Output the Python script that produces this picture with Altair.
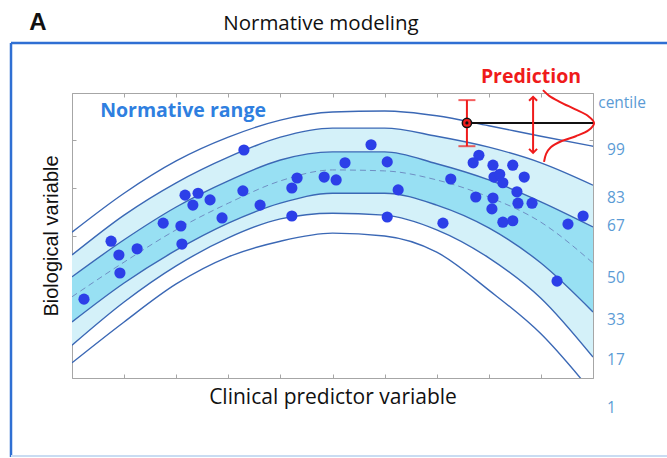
import altair as alt
import pandas as pd

# ---- predictor grid (percent of predictor range) and centile curves ----
GRID = [0, 10, 20, 30, 40, 50, 60, 70, 80, 90, 100]
CURVE_99 = [30.7, 38.9, 45.7, 50.7, 54.3, 56.0, 56.2, 55.2, 53.1, 50.9, 48.8]
CURVE_83 = [25.9, 34.3, 41.1, 46.5, 50.7, 52.6, 52.6, 50.9, 48.6, 45.3, 40.6]
CURVE_67 = [21.3, 29.1, 36.0, 41.5, 45.9, 47.6, 47.6, 45.1, 41.7, 37.1, 31.8]
CURVE_50 = [17.1, 24.4, 31.2, 36.8, 41.5, 43.8, 43.6, 41.7, 38.1, 32.8, 24.2]
CURVE_33 = [11.8, 20.0, 26.9, 32.6, 36.8, 38.9, 38.9, 36.4, 31.6, 24.2, 13.9]
CURVE_17 = [6.9, 16.0, 23.6, 29.5, 33.5, 34.7, 34.3, 31.2, 25.3, 16.8, 4.4]
CURVE_1 = [3.2, 11.8, 19.8, 25.5, 28.8, 30.5, 29.9, 26.5, 18.5, 9.3, -3.2]

# ---- observed subjects ----
SUBJ_X = [33.0, 21.7, 24.2, 23.2, 26.5, 32.8, 17.5, 20.9, 28.8, 36.1, 43.2, 42.2,
          42.2, 48.4, 50.7, 7.5, 9.0, 12.5, 21.1, 9.2, 2.3, 57.4, 52.4, 60.5,
          62.6, 72.7, 60.5, 71.2, 78.1, 77.0, 80.8, 84.6, 81.0, 82.1, 82.7, 86.8,
          77.5, 80.8, 85.4, 85.6, 88.3, 80.6, 82.7, 84.6, 95.2, 98.1, 93.1]
SUBJ_Y = [48.0, 38.5, 38.9, 36.4, 37.5, 39.4, 32.6, 32.0, 33.7, 36.4, 42.1, 40.0,
          34.1, 42.3, 41.7, 28.8, 25.9, 27.2, 28.2, 22.1, 16.6, 49.1, 45.3, 45.5,
          39.6, 41.9, 33.9, 32.6, 46.9, 45.3, 44.8, 44.8, 42.3, 42.9, 41.1, 42.3,
          38.1, 37.9, 39.2, 36.8, 36.8, 35.6, 32.8, 33.1, 32.4, 34.1, 20.4]

# ---- new individual and its prediction ----
PRED_X, PRED_Y = 75.8, 53.7
PRED_LO, PRED_HI = 48.8, 58.5
ARROW_X, ARROW_LO, ARROW_HI = 88.5, 47.4, 59.2
GAUSS_X = [90.4, 91.6, 93.7, 96.5, 99.0, 100.2, 99.2, 96.7, 94.0, 91.9, 91.0, 90.6]
GAUSS_Y = [60.6, 59.4, 58.1, 56.6, 55.2, 53.7, 52.2, 50.9, 49.9, 48.6, 47.2, 45.5]

# ---- annotations ----
RANGE_LABEL = ("Normative range", 5.4, 54.9)
PRED_LABEL = ("Prediction", 88.1, 62.1)
CENTILE_TEXT = ["centile", "99", "83", "67", "50", "33", "17", "1"]
CENTILE_X = [101.0, 102.7, 102.7, 102.7, 102.7, 102.7, 102.7, 102.7]
CENTILE_Y = [57.9, 48.0, 37.9, 32.0, 21.1, 12.2, 3.8, -6.3]

TICKS_X = [0, 10, 20, 30, 40, 50, 60, 70, 80, 90, 100]
TICKS_Y = [0, 10, 20, 30, 40, 50, 60]

FRAME = "#a6a6a6"
CURVE = "#3b68b5"
MEDIAN = "#6f8fc4"
LIGHT = "#d4f1f9"
DARK = "#98e0f3"
POINT = "#2c3fe8"
RED = "#ef1b1b"
CENTILE_BLUE = "#5b9bd5"
BORDER = "#2f6fd3"
SANS = "Open Sans"

XS = alt.Scale(domain=[0, 100], nice=False, zero=False)
YS = alt.Scale(domain=[0, 60], nice=False, zero=False)


def xq(field):
    return alt.X(field, type="quantitative", scale=XS, axis=None)


def yq(field):
    return alt.Y(field, type="quantitative", scale=YS, axis=None)


bands = pd.DataFrame({"x": GRID, "c99": CURVE_99, "c83": CURVE_83, "c67": CURVE_67,
                      "c50": CURVE_50, "c33": CURVE_33, "c17": CURVE_17, "c1": CURVE_1})
solid = bands.melt(id_vars="x", value_vars=["c99", "c83", "c67", "c33", "c17", "c1"],
                   var_name="centile", value_name="y")
subjects = pd.DataFrame({"x": SUBJ_X, "y": SUBJ_Y})
gauss = pd.DataFrame({"x": GAUSS_X, "y": GAUSS_Y, "i": list(range(len(GAUSS_X)))})
pred = pd.DataFrame({"x": [PRED_X], "y": [PRED_Y], "lo": [PRED_LO], "hi": [PRED_HI], "xe": [100]})
caps = pd.DataFrame({"x": [PRED_X, PRED_X], "y": [PRED_LO, PRED_HI]})
arrow = pd.DataFrame({"x": [ARROW_X], "lo": [ARROW_LO], "hi": [ARROW_HI]})
range_df = pd.DataFrame({"t": [RANGE_LABEL[0]], "x": [RANGE_LABEL[1]], "y": [RANGE_LABEL[2]]})
pred_df = pd.DataFrame({"t": [PRED_LABEL[0]], "x": [PRED_LABEL[1]], "y": [PRED_LABEL[2]]})
centiles = pd.DataFrame({"t": CENTILE_TEXT, "x": CENTILE_X, "y": CENTILE_Y})
one = pd.DataFrame({"k": [0]})

axis_common = dict(labels=False, domain=False, grid=False, tickSize=4, offset=-4,
                   tickColor=FRAME, tickWidth=1)

light = alt.Chart(bands).mark_area(color=LIGHT, interpolate="monotone").encode(
    x=alt.X("x:Q", scale=XS, axis=alt.Axis(
        orient="bottom", values=TICKS_X, title="Clinical predictor variable",
        titleFont=SANS, titleFontSize=21, titleFontWeight="normal", titleColor="#111111",
        titlePadding=8, **axis_common)),
    y=alt.Y("c83:Q", scale=YS, axis=alt.Axis(
        orient="left", values=TICKS_Y, title="Biological variable",
        titleFont="Liberation Sans", titleFontSize=20, titleFontWeight="normal",
        titleColor="#111111", titlePadding=10, **axis_common)),
    y2="c17:Q",
)
dark = alt.Chart(bands).mark_area(color=DARK, interpolate="monotone").encode(
    x=xq("x"), y=yq("c67"), y2="c33:Q")

lines = alt.Chart(solid).mark_line(color=CURVE, strokeWidth=1.4, interpolate="monotone",
                                   clip=True).encode(
    x=xq("x"), y=yq("y"), detail="centile:N")
median = alt.Chart(bands).mark_line(color=MEDIAN, strokeWidth=1, strokeDash=[6, 4],
                                    interpolate="monotone").encode(x=xq("x"), y=yq("c50"))

dots = alt.Chart(subjects).mark_circle(size=125, color=POINT, opacity=1).encode(
    x=alt.X("x:Q", scale=XS, axis=alt.Axis(orient="top", values=TICKS_X, title=None,
                                           **axis_common)),
    y=alt.Y("y:Q", scale=YS, axis=alt.Axis(orient="right", values=TICKS_Y, title=None,
                                           **axis_common)),
)

hline = alt.Chart(pred).mark_rule(color="#111111", strokeWidth=2).encode(
    x=xq("x"), x2="xe:Q", y=yq("y"))
ebar = alt.Chart(pred).mark_rule(color=RED, strokeWidth=2).encode(
    x=xq("x"), y=yq("lo"), y2="hi:Q")
ecaps = alt.Chart(caps).mark_tick(color=RED, orient="horizontal", size=17,
                                  thickness=2).encode(x=xq("x"), y=yq("y"))
marker = alt.Chart(pred).mark_point(shape="circle", filled=True, fill=RED, stroke="#111111",
                                    strokeWidth=1.5, size=85, opacity=1).encode(
    x=xq("x"), y=yq("y"))
marker_c = alt.Chart(pred).mark_circle(color="#111111", size=10, opacity=1).encode(
    x=xq("x"), y=yq("y"))

arrow_shaft = alt.Chart(arrow).mark_rule(color=RED, strokeWidth=2).encode(
    x=xq("x"), y=yq("lo"), y2="hi:Q")
arrow_up = alt.Chart(arrow).mark_point(shape="M-0.8,0.8L0,0L0.8,0.8", filled=False,
                                       color=RED, strokeWidth=2, size=100, opacity=1).encode(
    x=xq("x"), y=yq("hi"))
arrow_down = alt.Chart(arrow).mark_point(shape="M-0.8,-0.8L0,0L0.8,-0.8", filled=False,
                                         color=RED, strokeWidth=2, size=100, opacity=1).encode(
    x=xq("x"), y=yq("lo"))

gauss_line = alt.Chart(gauss).mark_line(color=RED, strokeWidth=2,
                                        interpolate="catmull-rom").encode(
    x=xq("x"), y=yq("y"), order="i:Q")

range_mark = alt.Chart(range_df).mark_text(
    font=SANS, fontSize=19.5, fontWeight="bold", color="#2f7fe0", align="left",
    baseline="alphabetic").encode(x=xq("x"), y=yq("y"), text="t:N")
pred_mark = alt.Chart(pred_df).mark_text(
    font=SANS, fontSize=19.5, fontWeight="bold", color=RED, align="center",
    baseline="alphabetic").encode(x=xq("x"), y=yq("y"), text="t:N")
centile_marks = alt.Chart(centiles).mark_text(
    font=SANS, fontSize=15.5, color=CENTILE_BLUE, align="left", baseline="middle").encode(
    x=xq("x"), y=yq("y"), text="t:N")

title = alt.Chart(one).mark_text(
    text="Normative modeling", font=SANS, fontSize=20.5, color="#111111", align="center",
    baseline="alphabetic").encode(x=alt.value(249), y=alt.value(-63))
panel = alt.Chart(one).mark_text(
    text="A", font="Liberation Sans", fontSize=24, fontWeight="bold", color="#111111",
    align="center", baseline="alphabetic").encode(x=alt.value(-34), y=alt.value(-63))

box_left = alt.Chart(one).mark_rule(color=BORDER, strokeWidth=2.5).encode(
    x=alt.value(-61), y=alt.value(-50), y2=alt.value(364))
box_top = alt.Chart(one).mark_rule(color=BORDER, strokeWidth=2.5).encode(
    x=alt.value(-61), x2=alt.value(600), y=alt.value(-50))
box_bottom = alt.Chart(one).mark_rule(color="#c9dcf2", strokeWidth=2).encode(
    x=alt.value(-61), x2=alt.value(600), y=alt.value(363))

chart = alt.layer(
    light, dark, lines, median, dots, hline, ebar, ecaps, marker, marker_c,
    arrow_shaft, arrow_up, arrow_down, gauss_line, range_mark, pred_mark, centile_marks,
    title, panel, box_left, box_top, box_bottom,
).resolve_axis(x="independent", y="independent").properties(
    width=521, height=285,
    autosize=alt.AutoSizeParams(type="none"),
    padding={"left": 72, "top": 93, "right": 74, "bottom": 80},
    background="white",
).configure_view(stroke=FRAME, strokeWidth=1)

chart.save("out.html", embed_options={"renderer": "svg", "actions": False})
